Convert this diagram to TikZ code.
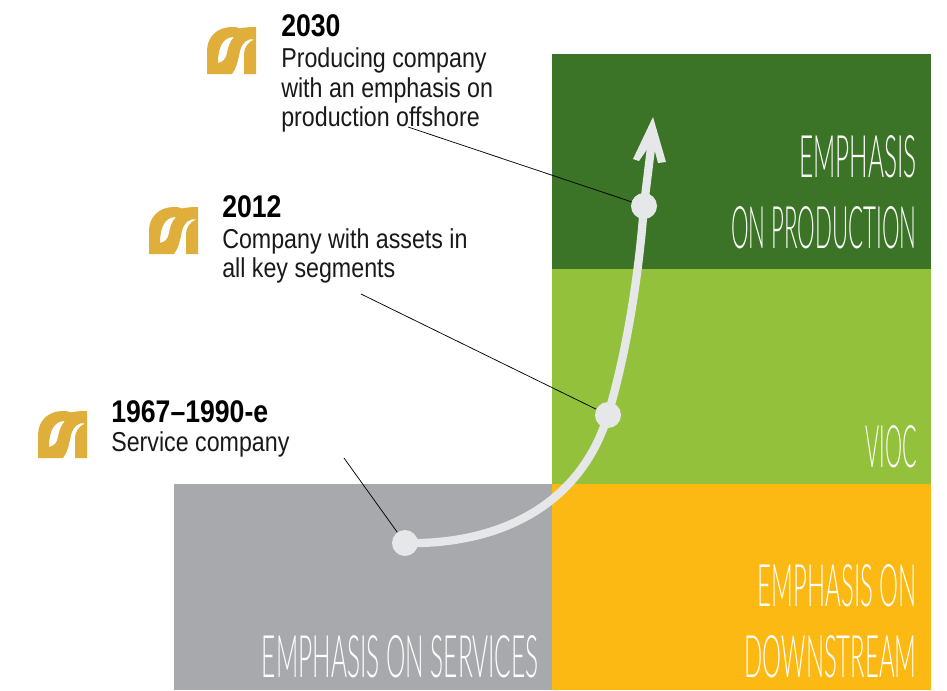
\documentclass[tikz,border=0pt]{standalone}
\usepackage{graphicx}
\usepackage{fontspec}
\setmainfont{Liberation Sans}
\newfontfamily\narrowf[FakeStretch=0.85]{Liberation Sans}
\newfontfamily\yearf[FakeStretch=0.85]{Liberation Sans}
\newfontfamily\headf[FakeStretch=0.417]{Lato Light}
\definecolor{dkgreen}{HTML}{3B7327}
\definecolor{ltgreen}{HTML}{93C13C}
\definecolor{amber}{HTML}{FDB913}
\definecolor{midgray}{HTML}{A7A9AC}
\definecolor{pale}{HTML}{E6E7E9}
\definecolor{gold}{HTML}{E0AE3A}
\tikzset{
 x=0.75pt,y=-0.75pt,
 band/.style={fill=#1,draw=none},
 head/.style={font=\headf\fontsize{44}{44}\selectfont,text=white,anchor=base east,inner sep=0pt},
 yeartext/.style={font=\yearf\bfseries\fontsize{23.5}{23.5}\selectfont,anchor=base west,inner sep=0pt},
 bodytext/.style={font=\narrowf\fontsize{20.5}{20.5}\selectfont,anchor=base west,inner sep=0pt,text=black!90},
 stop/.style={circle,fill=pale,draw=none,minimum size=19.5pt,inner sep=0pt},
 leader/.style={draw=black,line width=0.55pt},
 logo/.pic={
  \fill[gold,even odd rule]
   (0,47) -- (0,24) .. controls (0,10) and (10,0) .. (25,0) .. controls (29,0) and (31,0.5) .. (33,1.5)
   .. controls (36,0.5) and (42,0) .. (49,0) -- (49,47) -- (37,47) -- (37,27) .. controls (37,21) and (41,15) .. (47,12.5)
   .. controls (40,11) and (35,16) .. (33,24) .. controls (31,34) and (29,42) .. (25,47) -- cycle
   (11,36) .. controls (11,20) and (16,10) .. (27,10) .. controls (23,14) and (21,20) .. (20,26) .. controls (19,32) and (16,35) .. (11,36) -- cycle;
 }
}
\begin{document}
\begin{tikzpicture}
\useasboundingbox (0,0) rectangle (947,690);
\fill[band=dkgreen] (552,54) rectangle (931,269);
\fill[band=ltgreen] (552,269) rectangle (931,484);
\fill[band=amber] (552,484) rectangle (931,690);
\fill[band=midgray] (174,484) rectangle (552,690);
\node[head] (h1) at (917,177) {EMPHASIS};
\node[head] (h2) at (917,248) {\scalebox{0.91}[1]{ON PRODUCTION}};
\node[head] (h3) at (917,467) {\scalebox{0.88}[1]{VIOC}};
\node[head] (h4) at (917,606) {\scalebox{0.98}[1]{EMPHASIS ON}};
\node[head] (h5) at (917,677) {\scalebox{0.98}[1]{DOWNSTREAM}};
\node[head] (h6) at (539,677) {EMPHASIS ON SERVICES};
\node[yeartext] (y1) at (281,36) {2030};
\node[bodytext] (b1a) at (281,67) {Producing company};
\node[bodytext] (b1b) at (281,97) {with an emphasis on};
\node[bodytext] (b1c) at (281,126) {production offshore};
\node[yeartext] (y2) at (222,217) {2012};
\node[bodytext] (b2a) at (222,248) {Company with assets in};
\node[bodytext] (b2b) at (222,277) {all key segments};
\node[yeartext] (y3) at (111,422) {1967–1990-e};
\node[bodytext] (b3a) at (111,451) {Service company};
\pic at (207,27) {logo};
\pic at (149,207) {logo};
\pic at (38,411) {logo};
\coordinate (l1) at (408,127);
\coordinate (l2) at (361,294);
\coordinate (l3) at (344,458);
\draw[pale,line width=6.2pt] (405,543) .. controls (490,545) and (578,512) .. (608,415) .. controls (630,340) and (640,260) .. (644,205) -- (652,140);
\fill[pale] (653,117) -- (666,162) -- (658,163) -- (654,148) -- (648,148) -- (639,161) -- (633,159) -- cycle;
\node[stop] (s1) at (644,206) {};
\node[stop] (s2) at (608,415) {};
\node[stop] (s3) at (405,543) {};
\draw[leader] (l1) -- (s1);
\draw[leader] (l2) -- (s2);
\draw[leader] (l3) -- (s3);
\end{tikzpicture}
\end{document}
